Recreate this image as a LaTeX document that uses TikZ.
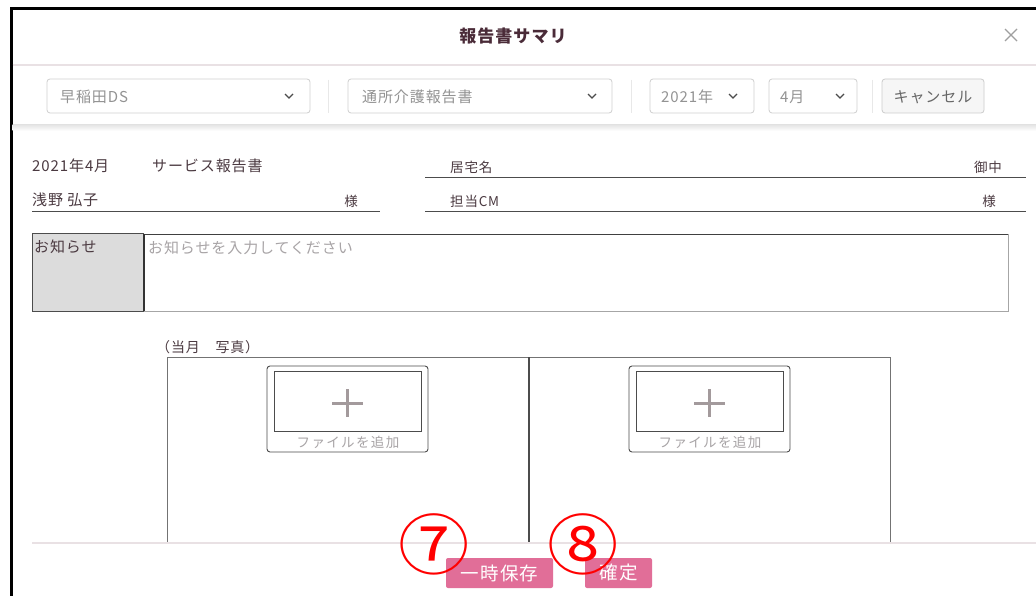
\documentclass[tikz,border=0pt]{standalone}
\usepackage{fontspec}
\setmainfont{Noto Sans CJK JP}[LetterSpace=6]
\usetikzlibrary{arrows.meta}

\definecolor{inkbrown}{HTML}{4B3A41}
\definecolor{titleink}{HTML}{4A2B38}
\definecolor{hintgray}{HTML}{A8A4A6}
\definecolor{boxgray}{HTML}{CFCFCF}
\definecolor{rulepink}{HTML}{E9E1E4}
\definecolor{btnpink}{HTML}{E16E98}
\definecolor{labelfill}{HTML}{DCDCDC}
\definecolor{plusgray}{HTML}{A39A9C}

\tikzset{
	txt/.style={inner sep=0pt, anchor=west, text=inkbrown, font=\fontsize{15}{17}\selectfont},
	small/.style={txt, font=\fontsize{13.5}{15}\selectfont},
	hint/.style={txt, text=hintgray},
	dropbox/.style={draw=boxgray, rounded corners=3pt, line width=0.8pt},
	chev/.style={draw=black!70, line width=1.3pt},
	vsep/.style={draw=gray!18, line width=1pt},
	underline/.style={draw=black!70, line width=0.8pt},
	frame/.style={draw=black!70, line width=0.9pt},
	btn/.style={fill=btnpink, rounded corners=2pt, text=white, inner sep=0pt, minimum height=30, font=\fontsize{18.5}{20}\selectfont},
	stepmark/.style={text=red, inner sep=0pt, xscale=1.08, font=\fontsize{66}{66}\selectfont\addfontfeature{LetterSpace=0}}
}

\begin{document}
\begin{tikzpicture}[x=1pt, y=-1pt]
		\useasboundingbox (0, 0) rectangle (1036, 596);
		\fill[white] (0, 0) rectangle (1036, 596);
		
		% Window Frame
		\draw[black, line width=3pt] (11, 596) -- (11, 9) -- (1036, 9);
		
		% Title Bar
		\node[txt, anchor=center, text=titleink, font=\fontsize{17}{19}\selectfont\bfseries] (title) at (513, 36) {報告書サマリ};
		\draw[gray!75, line width=1.3pt] (1005, 29) -- (1017, 41);
		\draw[gray!75, line width=1.3pt] (1017, 29) -- (1005, 41);
		\draw[rulepink, line width=1.3pt] (12.5, 65) -- (1036, 65);
		
		% Toolbar
		% office
		\draw[dropbox] (47, 79) rectangle (310, 113);
		\node[hint, text=gray!85] (office) at (60, 97) {早稲田DS};
		\draw[chev] (285, 94) -- (289, 98) -- (293, 94);
		\draw[vsep] (328, 80) -- (328, 113);
		
		% report type
		\draw[dropbox] (348, 79) rectangle (612, 113);
		\node[hint, text=gray!85] (rtype) at (362, 97) {通所介護報告書};
		\draw[chev] (588, 94) -- (592, 98) -- (596, 94);
		\draw[vsep] (631, 80) -- (631, 113);
		
		% year
		\draw[dropbox] (650, 79) rectangle (754, 113);
		\node[hint, text=gray!85] (year) at (661, 97) {2021年};
		\draw[chev] (729, 94) -- (733, 98) -- (737, 94);
		
		% month
		\draw[dropbox] (769, 79) rectangle (857, 113);
		\node[hint, text=gray!85] (month) at (780, 97) {4月};
		\draw[chev] (836, 94) -- (840, 98) -- (844, 94);
		\draw[vsep] (872, 80) -- (872, 113);
		
		% cancel
		\draw[fill=gray!7, draw=gray!40, rounded corners=3pt, line width=0.8pt] (882, 79) rectangle (984, 113);
		\node[txt, anchor=center, text=black!60] (cancel) at (933, 97) {キャンセル};
		
		% toolbar shadow
		\shade[top color=black!10, bottom color=white] (12.5, 125) rectangle (1036, 131);
		
		% Header Rows
		\node[txt] (ym) at (32, 166) {2021年4月};
		\node[txt] (kind) at (152, 166) {サービス報告書};
		\node[small] (home) at (450, 167) {居宅名};
		\node[small, anchor=east] (dear) at (1002, 167) {御中};
		\draw[underline] (425, 177) -- (1026, 177);
		
		\node[txt] (user) at (32, 200) {浅野 弘子};
		\node[small, anchor=center] (sama1) at (351, 201) {様};
		\draw[underline] (32, 211) -- (380, 211);
		\node[small] (cm) at (450, 201) {担当CM};
		\node[small, anchor=center] (sama2) at (989, 201) {様};
		\draw[underline] (425, 211) -- (1026, 211);
		
		% Notice
		\draw[draw=gray!70, line width=0.9pt] (143, 234) rectangle (1008, 311);
		\draw[black!75, line width=0.9pt] (143, 234) -- (1008, 234);
		\draw[fill=labelfill, draw=black!70, line width=1pt] (32, 234) rectangle (143, 311);
		\draw[black!80, line width=2pt] (143.5, 234) -- (143.5, 311);
		\node[txt] (notice) at (34, 247) {お知らせ};
		\node[hint] (noticehint) at (148, 248) {お知らせを入力してください};
		
		% Photos
		\node[txt, font=\fontsize{14}{16}\selectfont] (photo) at (156, 347) {（当月　写真）};
		\draw[frame, draw=black!55] (167, 543) -- (167, 357) -- (890, 357) -- (890, 543);
		\draw[frame, line width=1.3pt] (529, 357) -- (529, 543);
		
		% Add File (left)
		\draw[frame, rounded corners=3pt] (267, 366) rectangle (428, 452);
		\draw[frame] (274, 371) rectangle (421, 431);
		\draw[plusgray, line width=3pt] (332, 403) -- (363, 403);
		\draw[plusgray, line width=3pt] (347.5, 389) -- (347.5, 417);
		\node[hint, anchor=center, font=\fontsize{13.5}{15}\selectfont\addfontfeature{LetterSpace=10}] (add1) at (348, 442) {ファイルを追加};
		
		% Add File (right)
		\draw[frame, rounded corners=3pt] (629, 366) rectangle (790, 452);
		\draw[frame] (636, 371) rectangle (783, 431);
		\draw[plusgray, line width=3pt] (694, 403) -- (725, 403);
		\draw[plusgray, line width=3pt] (709.5, 389) -- (709.5, 417);
		\node[hint, anchor=center, font=\fontsize{13.5}{15}\selectfont\addfontfeature{LetterSpace=10}] (add2) at (710, 442) {ファイルを追加};
		
		% Footer
		\draw[rulepink, line width=1.5pt] (32, 543) -- (1036, 543);
		\node[btn, minimum width=107] (save) at (499.5, 573) {一時保存};
		\node[btn, minimum width=67] (ok) at (618.5, 573) {確定};
		
		% Step Marks
		\node[stepmark] (m7) at (434, 544) {⑦};
		\node[stepmark] (m8) at (583, 544) {⑧};
		
	\end{tikzpicture}
\end{document}
